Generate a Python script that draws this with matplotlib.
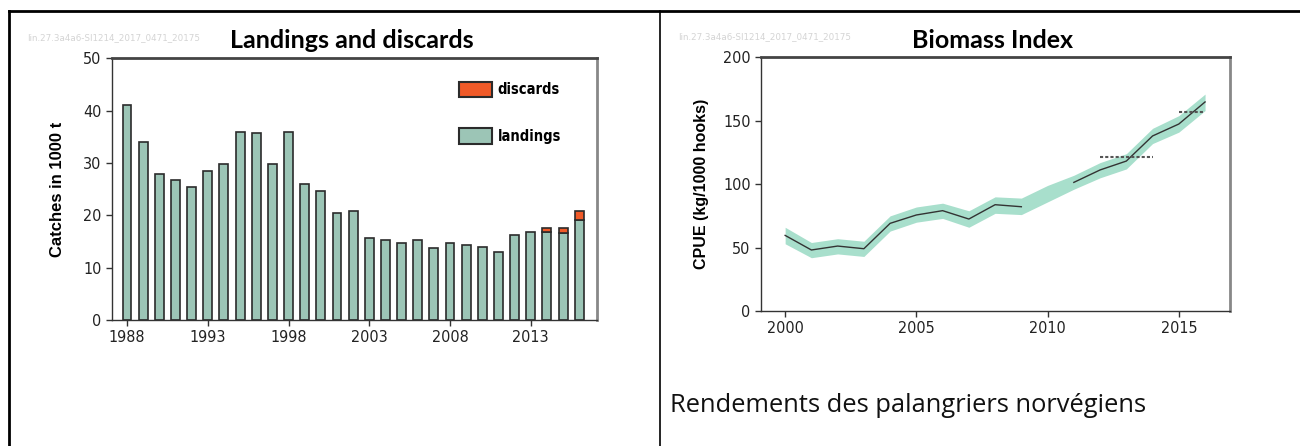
import numpy as np
import matplotlib
matplotlib.use('Agg')
import matplotlib.pyplot as plt
from matplotlib.lines import Line2D
from matplotlib.patches import Patch
from matplotlib import font_manager

# Datos del grafico de capturas (miles de t)
years_catch = np.arange(1988, 2017)
landings = [41.0, 34.0, 27.9, 26.7, 25.5, 28.5, 29.8, 35.9, 35.7, 29.9,
            35.9, 26.0, 24.6, 20.5, 20.8, 15.6, 15.2, 14.8, 15.2, 13.8,
            14.8, 14.3, 14.0, 12.9, 16.2, 16.9, 16.9, 16.6, 19.1]
discards = [0, 0, 0, 0, 0, 0, 0, 0, 0, 0,
            0, 0, 0, 0, 0, 0, 0, 0, 0, 0,
            0, 0, 0, 0, 0, 0, 0.6, 0.9, 1.8]
catch_ticks = [1988, 1993, 1998, 2003, 2008, 2013]

# Datos del indice de biomasa (CPUE)
years_cpue = np.arange(2000, 2017)
cpue = [59.6, 48.1, 51.2, 49.1, 69.1, 75.7, 79.1, 72.5, 83.8, 82.2,
        np.nan, 101.4, 111.2, 118.2, 138.0, 147.4, 164.8]
cpue_upper = [66, 54, 57, 55, 75, 82, 85, 79, 90, 89, 99, 107, 117, 124, 144, 154, 171]
cpue_lower = [53, 42, 45, 43, 63, 70, 73, 66, 77, 76, 86, 96, 105, 112, 132, 141, 158]
ref_years_1 = [2012, 2014]
ref_val_1 = 121.2
ref_years_2 = [2015, 2016]
ref_val_2 = 156.6
cpue_ticks = [2000, 2005, 2010, 2015]

W, H = 1300, 446
fig = plt.figure(figsize=(W / 100, H / 100), dpi=100)
fig.patch.set_facecolor('white')

# fuente estrecha para las etiquetas de los ejes
narrow = font_manager.FontProperties(family='DejaVu Sans', stretch='condensed', size=11.5)
narrow_bold = font_manager.FontProperties(family='DejaVu Sans', stretch='condensed',
                                          weight='bold', size=10.5)
title_font = ['Lato', 'DejaVu Sans']


def px_rect(x0, x1, ytop, ybot):
    return [x0 / W, (H - ybot) / H, (x1 - x0) / W, (ybot - ytop) / H]


def style_axes(ax):
    for side in ['left', 'bottom']:
        ax.spines[side].set_color('#333333')
        ax.spines[side].set_linewidth(1.0)
    ax.spines['top'].set_color('#444444')
    ax.spines['top'].set_linewidth(2.0)
    ax.spines['right'].set_color('#888888')
    ax.spines['right'].set_linewidth(2.0)
    ax.tick_params(direction='out', length=4, width=1, color='#333333',
                   labelcolor='#222222')
    for lab in ax.get_xticklabels() + ax.get_yticklabels():
        lab.set_fontproperties(narrow)


# --- Panel izquierdo: capturas ---
ax1 = fig.add_axes(px_rect(112, 597, 58.3, 320))
green = '#9cc5b6'
orange = '#f05a28'
ax1.bar(years_catch, landings, width=0.55, color=green,
        edgecolor='#2b2b2b', linewidth=1.2)
b_disc = ax1.bar(years_catch, discards, width=0.55, bottom=landings,
                 color=orange, edgecolor='#2b2b2b', linewidth=1.2)
# quitar los rectangulos vacios de descartes
for r, d in zip(b_disc, discards):
    if d == 0:
        r.set_visible(False)
ax1.set_xlim(1987.07, 2017.1)
ax1.set_ylim(0, 50)
ax1.set_xticks(catch_ticks)
ax1.set_yticks([0, 10, 20, 30, 40, 50])
style_axes(ax1)
ax1.set_ylabel('Catches in 1000 t', fontsize=12, fontweight='bold',
               family=['Liberation Sans', 'DejaVu Sans'], labelpad=13)
handles = [Patch(facecolor=orange, edgecolor='#2b2b2b', linewidth=1.5, label='discards'),
           Patch(facecolor=green, edgecolor='#2b2b2b', linewidth=1.5, label='landings')]
ax1.legend(handles=handles, loc='upper left',
           bbox_to_anchor=(0.715, 0.91), frameon=False,
           borderpad=0, borderaxespad=0, handlelength=2.3,
           handleheight=1.25, labelspacing=2.1, handletextpad=0.35,
           prop=narrow_bold)
fig.text(352, H - 40, 'Landings and discards', transform=None,
         ha='center', va='center', fontsize=18, fontweight='bold',
         family=title_font)
fig.text(27 / W, 1 - 38 / H, 'lin.27.3a4a6-SI1214_2017_0471_20175',
         fontsize=6.3, color='#d4d4d4', va='center')

# --- Panel derecho: indice de biomasa ---
ax2 = fig.add_axes(px_rect(761, 1230, 57.3, 311))
ax2.fill_between(years_cpue, cpue_lower, cpue_upper, color='#a8dfcc',
                 linewidth=0)
ax2.plot(years_cpue, cpue, color='#333333', linewidth=1.0)
ax2.plot(ref_years_1, [ref_val_1] * 2, color='#555555', linewidth=1.5,
         linestyle=(0, (1.5, 1)))
ax2.plot(ref_years_2, [ref_val_2] * 2, color='#555555', linewidth=1.5,
         linestyle=(0, (1.5, 1)))
ax2.set_xlim(1999.08, 2016.95)
ax2.set_ylim(0, 200)
ax2.set_xticks(cpue_ticks)
ax2.set_yticks([0, 50, 100, 150, 200])
style_axes(ax2)
ax2.set_ylabel('CPUE (kg/1000 hooks)', fontsize=11.5, fontweight='bold',
               family=['Liberation Sans', 'DejaVu Sans'], labelpad=10)
fig.text(992, H - 40, 'Biomass Index', transform=None,
         ha='center', va='center', fontsize=18, fontweight='bold',
         family=title_font)
fig.text(678 / W, 1 - 37 / H, 'lin.27.3a4a6-SI1214_2017_0471_20175',
         fontsize=6.3, color='#d4d4d4', va='center')

fig.text(670 / W, 1 - 405 / H, 'Rendements des palangriers norvégiens',
         fontsize=18.4, family=['Open Sans', 'DejaVu Sans'], va='center',
         color='#111111')

# Bordes de la tabla
line_kw = dict(transform=fig.transFigure, color='black', linewidth=2)
fig.add_artist(Line2D([9 / W, 1], [1 - 10.7 / H] * 2, **line_kw))
fig.add_artist(Line2D([9 / W] * 2, [0, 1 - 10.7 / H], **line_kw))
fig.add_artist(Line2D([660 / W] * 2, [0, 1 - 10.7 / H], linewidth=1.2,
                      transform=fig.transFigure, color='black'))

fig.savefig('out.png', dpi=100, facecolor='white')
